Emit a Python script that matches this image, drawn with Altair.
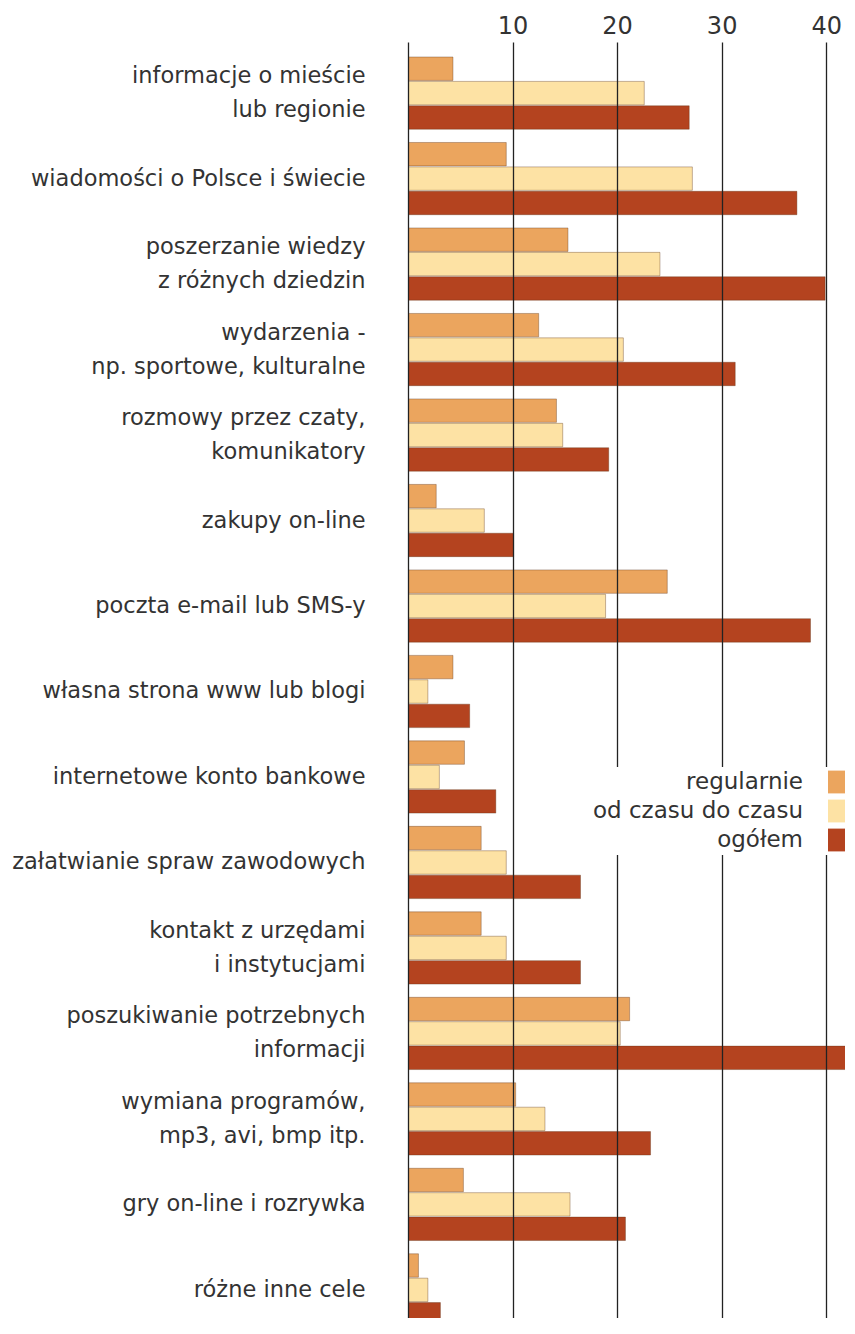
import altair as alt
import pandas as pd

categories = [
    "informacje o mieście\nlub regionie",
    "wiadomości o Polsce i świecie",
    "poszerzanie wiedzy\nz różnych dziedzin",
    "wydarzenia -\nnp. sportowe, kulturalne",
    "rozmowy przez czaty,\nkomunikatory",
    "zakupy on-line",
    "poczta e-mail lub SMS-y",
    "własna strona www lub blogi",
    "internetowe konto bankowe",
    "załatwianie spraw zawodowych",
    "kontakt z urzędami\ni instytucjami",
    "poszukiwanie potrzebnych\ninformacji",
    "wymiana programów,\nmp3, avi, bmp itp.",
    "gry on-line i  rozrywka",
    "różne inne cele",
]
series = ["regularnie", "od czasu do czasu", "ogółem"]
regularnie = [4.3, 9.4, 15.3, 12.5, 14.2, 2.7, 24.8, 4.3, 5.4, 7.0, 7.0, 21.2, 10.3, 5.3, 1.0]
od_czasu_do_czasu = [22.6, 27.2, 24.1, 20.6, 14.8, 7.3, 18.9, 1.9, 3.0, 9.4, 9.4, 20.3, 13.1, 15.5, 1.9]
ogolem = [26.9, 37.2, 39.9, 31.3, 19.2, 10.1, 38.5, 5.9, 8.4, 16.5, 16.5, 42.6, 23.2, 20.8, 3.1]
colors = ["#EBA55E", "#FDE2A4", "#B4431F"]
x_ticks = [0, 10, 20, 30, 40]

rows = []
for s, vals in zip(series, [regularnie, od_czasu_do_czasu, ogolem]):
    for c, v in zip(categories, vals):
        rows.append({"kategoria": c, "seria": s, "wartosc": v})
df = pd.DataFrame(rows)

FONT = "DejaVu Sans"

chart = alt.Chart(df).mark_bar(
    stroke="#5a3015", strokeWidth=0.8, strokeOpacity=0.45, clip=True
).encode(
    y=alt.Y(
        "kategoria:N",
        sort=categories,
        scale=alt.Scale(paddingInner=0.155, paddingOuter=0.0877, align=1, range=[0, 1284]),
        axis=alt.Axis(
            title=None,
            labelExpr="split(datum.label, '\\n')",
            labelLineHeight=34,
            labelOffset={"condition": {"test": "indexof(datum.value, '\\n') >= 0", "value": -17}, "value": 0},
            labelFont=FONT,
            labelFontSize=22.5,
            labelColor="#333333",
            labelLimit=420,
            labelPadding=43,
            labelAlign="right",
            ticks=False,
            domain=False,
            grid=False,
        ),
    ),
    yOffset=alt.YOffset("seria:N", sort=series, scale=alt.Scale(paddingInner=0.04)),
    x=alt.X(
        "wartosc:Q",
        scale=alt.Scale(domain=[0, 41.8], nice=False, zero=True),
        axis=alt.Axis(
            orient="top",
            values=x_ticks,
            labelExpr="datum.value == 0 ? '' : datum.label",
            grid=True,
            gridColor="#222222",
            gridWidth=1.3,
            gridOpacity=1,
            domain=False,
            ticks=False,
            tickSize=0,
            labelPadding=4,
            labelFont=FONT,
            labelFontSize=24,
            labelColor="#333333",
            title=None,
            zindex=1,
        ),
    ),
    color=alt.Color(
        "seria:N",
        sort=series,
        scale=alt.Scale(domain=series, range=colors),
        legend=alt.Legend(
            title=None,
            orient="none",
            legendX=149,
            legendY=725,
            direction="vertical",
            fillColor="white",
            padding=3,
            symbolType="M-1,-0.95H1V0.95H-1Z",
            symbolSize=576,
            symbolStrokeWidth=0,
            symbolOpacity=1,
            labelAlign="right",
            labelOffset={"expr": "-49"},
            symbolOffset=268,
            labelFont=FONT,
            labelFontSize=23,
            labelColor="#333333",
            labelLimit=320,
            rowPadding=5,
            zindex=2,
        ),
    ),
).properties(
    width=437,
    height=1276,
    autosize=alt.AutoSizeParams(type="none"),
    padding={"left": 400, "top": 34, "right": 0, "bottom": 0},
).configure_view(stroke=None)

chart.save("out.html", embed_options={"renderer": "svg", "actions": False})
